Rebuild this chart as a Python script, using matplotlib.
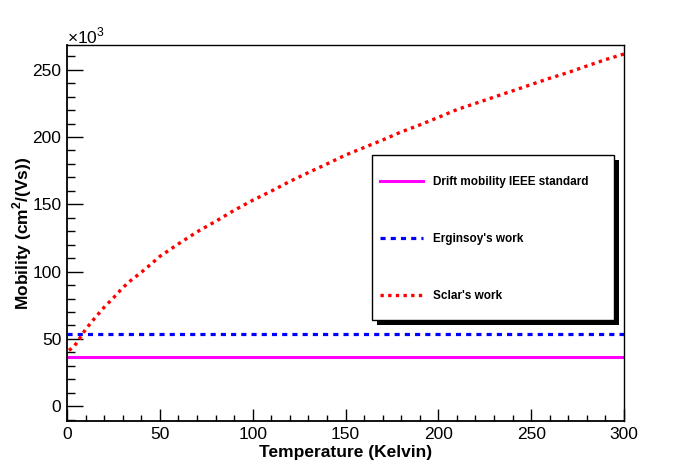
import matplotlib
matplotlib.use("Agg")
import matplotlib.pyplot as plt
import matplotlib.ticker as mticker
import matplotlib.transforms as mtransforms
from matplotlib.patches import Rectangle

plt.rcParams["font.family"] = ["Liberation Sans", "DejaVu Sans"]
plt.rcParams["mathtext.fontset"] = "custom"
plt.rcParams["mathtext.rm"] = "Liberation Sans"
plt.rcParams["mathtext.bf"] = "Liberation Sans:bold"

# ── Data (mobility in units of 10^3 cm^2/(Vs)) ────────────────────────────────
temp_range = [0, 300]
ieee_mobility = [36.4, 36.4]
erginsoy_mobility = [53.3, 53.3]

sclar_temp = [1, 2, 4, 6, 8, 10, 12, 15, 20, 25, 30, 35, 40, 45, 50, 60, 70,
              80, 90, 100, 110, 120, 130, 140, 150, 160, 170, 180, 190, 200,
              210, 220, 230, 240, 250, 260, 270, 280, 290, 300]
sclar_mobility = [41.5, 42.4, 44.8, 48.5, 53.0, 57.0, 60.5, 65.5, 73.5, 80.5,
                  88.0, 94.2, 99.4, 105.3, 111.3, 120.6, 129.5, 137.3, 145.5,
                  153.0, 159.8, 167.0, 173.6, 180.0, 186.6, 192.2, 197.8,
                  203.8, 209.0, 214.6, 220.4, 225.0, 229.7, 234.3, 239.0,
                  243.7, 248.0, 252.8, 257.5, 261.7]

# ── Figure ────────────────────────────────────────────────────────────────────
fig = plt.figure(figsize=(6.96, 4.72), dpi=100)
ax = fig.add_axes([0.0963, 0.107, 0.8003, 0.7977])

ax.plot(temp_range, ieee_mobility, color="#ff00ff", linewidth=2.2,
        label="Drift mobility IEEE standard")
ax.plot(temp_range, erginsoy_mobility, color="#0000ff", linewidth=2.3,
        linestyle=(0, (1.6, 1.6)), label="Erginsoy's work")
ax.plot(sclar_temp, sclar_mobility, color="#ff0000", linewidth=2.4,
        linestyle=(0, (1.0, 1.3)), label="Sclar's work")

ax.set_xlim(0, 300)
ax.set_ylim(-11.4, 268.4)

ax.xaxis.set_major_locator(mticker.MultipleLocator(50))
ax.xaxis.set_minor_locator(mticker.MultipleLocator(10))
ax.yaxis.set_major_locator(mticker.MultipleLocator(50))
ax.yaxis.set_minor_locator(mticker.MultipleLocator(10))

ax.tick_params(axis="x", which="major", direction="in", length=9, width=1,
               labelsize=12.5, pad=4)
ax.tick_params(axis="x", which="minor", direction="in", length=4.5, width=1)
ax.tick_params(axis="y", which="major", direction="in", length=11.5, width=1,
               labelsize=12.5, pad=4)
ax.tick_params(axis="y", which="minor", direction="in", length=6, width=1)

for side in ["top", "right"]:
    ax.spines[side].set_linewidth(1.0)
for side in ["left", "bottom"]:
    ax.spines[side].set_linewidth(1.3)

ax.set_xlabel("Temperature (Kelvin)", fontsize=12.5, fontweight="bold",
              labelpad=2)
ax.set_ylabel(r"Mobility (cm$^{\mathbf{2}}$/(Vs))", fontsize=12.5,
              fontweight="bold", labelpad=-1.5)

ax.text(0.0, 1.005, r"$\times$10$^{3}$", transform=ax.transAxes,
        fontsize=12.5, ha="left", va="baseline")

# ── Legend: ROOT-like box with a solid black drop shadow ──────────────────────
box_x, box_y, box_w, box_h = 0.547, 0.2696, 0.4356, 0.4384
shadow_tr = mtransforms.offset_copy(ax.transAxes, fig=fig, x=5, y=-5,
                                    units="dots")
ax.add_patch(Rectangle((box_x, box_y), box_w, box_h, transform=shadow_tr,
                       facecolor="black", edgecolor="none", zorder=5,
                       clip_on=False))
ax.add_patch(Rectangle((box_x, box_y), box_w, box_h, transform=ax.transAxes,
                       facecolor="white", edgecolor="black", linewidth=1.0,
                       zorder=5.5, clip_on=False))

leg = ax.legend(loc="center left", bbox_to_anchor=(0.562, 0.485),
                borderaxespad=0, frameon=False, borderpad=0,
                labelspacing=3.8, handlelength=3.6, handletextpad=0.85,
                prop={"weight": "bold", "size": 8.5})
leg.set_zorder(6)

fig.savefig("out.png", dpi=100)
